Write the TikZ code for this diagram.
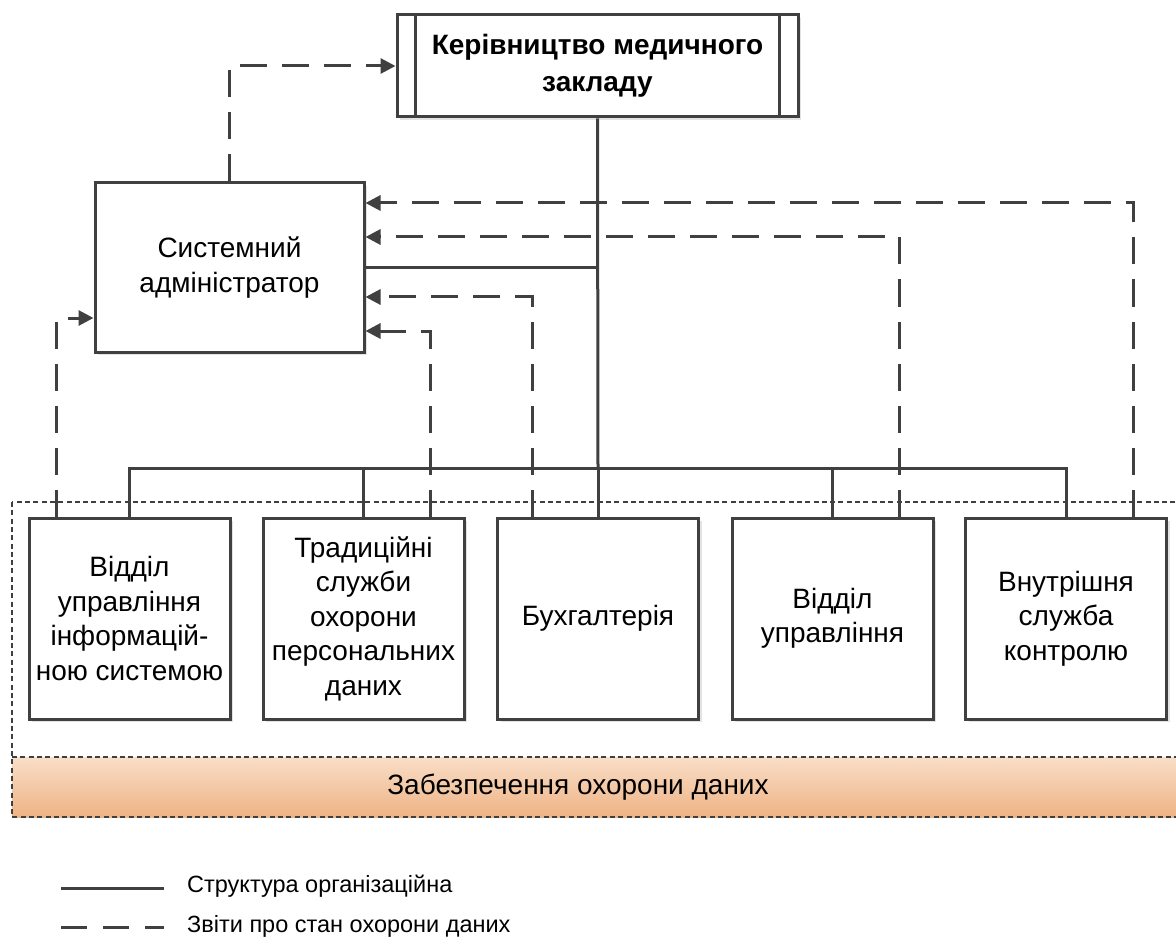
\documentclass[tikz,border=0pt]{standalone}
\usepackage{fontspec}
\setmainfont{Liberation Sans}
\usetikzlibrary{arrows.meta,calc,shadows}
\definecolor{ink}{HTML}{404040}
\definecolor{bandtop}{HTML}{F9DEC8}
\definecolor{bandbot}{HTML}{EEB384}

\begin{document}
\begin{tikzpicture}[x=1pt,y=-1pt,
  unit/.style={draw=ink, line width=3pt, fill=white, align=center, inner sep=0pt,
    drop shadow={opacity=0.22, shadow xshift=3pt, shadow yshift=-3pt},
    font=\fontsize{28}{34.5}\selectfont},
  dept/.style={unit, minimum width=201pt, minimum height=201pt},
  org/.style={draw=ink, line width=3pt},
  rep/.style={draw=ink, line width=3pt, dash pattern=on 27pt off 15pt,
    -{Triangle[length=15pt,width=15pt]}},
  frame/.style={draw=ink, line width=2.8pt, dash pattern=on 5pt off 3.3pt},
  legendtext/.style={anchor=west, inner sep=0pt, font=\fontsize{23.5}{27}\selectfont},
  ]
\clip (0,0) rectangle (1176,944);
\fill[white] (0,0) rectangle (1176,944);

% security area with its shaded band
\shade[top color=bandtop, bottom color=bandbot] (12,757) rectangle (1200,817);
\draw[frame] (12,502) rectangle (1200,817);
\draw[frame] (12,757) -- (1200,757);
\node[inner sep=0pt, font=\fontsize{28}{34.5}\selectfont] (bandlabel) at (578,787)
  {Забезпечення охорони даних};

% units
\node[unit, minimum width=401pt, minimum height=102pt, font=\bfseries\fontsize{28}{37}\selectfont]
  (head) at (597.5,66) {Керівництво медичного\\закладу};
\draw[org] ([xshift=20pt]head.north west) -- ([xshift=20pt]head.south west);
\draw[org] ([xshift=-20pt]head.north east) -- ([xshift=-20pt]head.south east);

\node[unit, minimum width=269pt, minimum height=169pt] (admin) at (229.5,267.5)
  {Системний\\адміністратор};

\node[dept] (d1) at (129.5,618.5) {Відділ\\управління\\інформацій-\\ною системою};
\node[dept] (d2) at (363.5,618.5) {Традиційні\\служби\\охорони\\персональних\\даних};
\node[dept] (d3) at (598,618.5) {Бухгалтерія};
\node[dept] (d4) at (832.5,618.5) {Відділ\\управління};
\node[dept] (d5) at (1066,618.5) {Внутрішня\\служба\\контролю};

% organisational structure
\coordinate (bus) at (598,468);
\draw[org] (head.south) -- (bus);
\draw[org] (admin.east) -- (admin.east -| head.south);
\draw[org] (d1.north) |- (bus) -| (d5.north);
\draw[org] (d2.north) -- (d2.north |- bus);
\draw[org] (d3.north) -- (bus);
\draw[org] (d4.north) -- (d4.north |- bus);

% reports on data protection
\draw[rep] (admin.north) |- (head.west);
\draw[rep] ($(d1.north)+(-73.5,0)$) |- ($(admin.west)+(0,50.5)$);
\draw[rep] ($(d2.north)+(66.5,0)$) |- ($(admin.east)+(0,63.5)$);
\draw[rep] ($(d3.north)+(-66,0)$) |- ($(admin.east)+(0,29.5)$);
\draw[rep] ($(d4.north)+(66.5,0)$) |- ($(admin.east)+(0,-30.5)$);
\draw[rep] ($(d5.north)+(67,0)$) |- ($(admin.east)+(0,-64.5)$);

% legend
\coordinate (l1a) at (61,888);
\coordinate (l1b) at (164,888);
\coordinate (l2a) at (61,927);
\coordinate (l2b) at (164,927);
\draw[org] (l1a) -- (l1b);
\draw[org, dash pattern=on 26pt off 16pt] (l2a) -- (l2b);
\node[legendtext] (lt1) at (187,886) {Структура організаційна};
\node[legendtext] (lt2) at (187,926) {Звіти про стан охорони даних};
\end{tikzpicture}
\end{document}
